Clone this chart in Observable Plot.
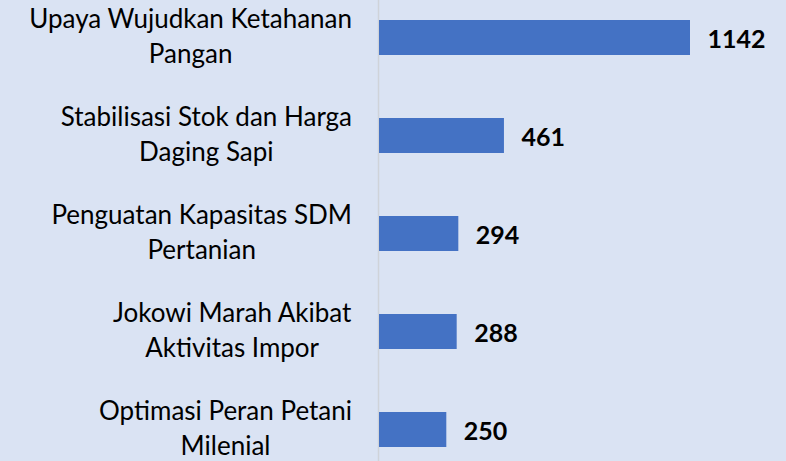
<!DOCTYPE html>
<html>
<head>
<meta charset="utf-8">
<script src="https://cdn.jsdelivr.net/npm/d3@7"></script>
<script src="https://cdn.jsdelivr.net/npm/@observablehq/plot@0.6"></script>
<style>
  html, body { margin: 0; padding: 0; background: #dae3f3; }
  #chart svg { display: block; }
</style>
</head>
<body>
<div id="chart"></div>
<script>
const categories = [
  "Upaya Wujudkan Ketahanan\nPangan",
  "Stabilisasi Stok dan Harga\nDaging Sapi",
  "Penguatan Kapasitas SDM\nPertanian",
  "Jokowi Marah Akibat\nAktivitas Impor",
  "Optimasi Peran Petani\nMilenial"
];
const values = [1142, 461, 294, 288, 250];

const data = categories.map((c, i) => ({cat: c, value: values[i]}));

const W = 786, H = 461;
const x0 = 378, pxPerUnit = 0.2732;

const chart = Plot.plot({
  width: W,
  height: H,
  margin: 0,
  style: {background: "#dae3f3", fontFamily: "Lato, sans-serif", overflow: "visible"},
  x: {domain: [0, 1400], range: [x0, x0 + 1400 * pxPerUnit], axis: null},
  y: {domain: categories, range: [-46, 513], padding: 0.6465, axis: null},
  marks: [
    Plot.ruleX([0], {stroke: "#cfd3d9", strokeWidth: 1.5}),
    Plot.barX(data, {x: "value", y: "cat", fill: "#4472c4", insetLeft: 1}),
    Plot.text(data, {
      y: "cat", text: "cat", frameAnchor: "left", textAnchor: "middle",
      lineAnchor: "middle", lineHeight: 1.35, fontSize: 26, fill: "#000", dy: -4
    }),
    Plot.text(data, {
      x: "value", y: "cat", text: d => String(d.value), textAnchor: "start",
      dx: 17, dy: 2, fontSize: 25, fontWeight: "bold", fill: "#000"
    })
  ]
});
document.getElementById("chart").append(chart);

// Excel-style: each label block right-aligned at the axis gap, lines centered within the block
const groups = chart.querySelectorAll('g[aria-label="text"]');
if (groups.length) {
  const svgRect = chart.getBoundingClientRect();
  groups[0].querySelectorAll("text").forEach(el => {
    const r = el.getBoundingClientRect();
    const dx = 352 - (r.right - svgRect.left);
    el.setAttribute("transform", `translate(${dx},0) ` + (el.getAttribute("transform") || ""));
  });
}
</script>
</body>
</html>
